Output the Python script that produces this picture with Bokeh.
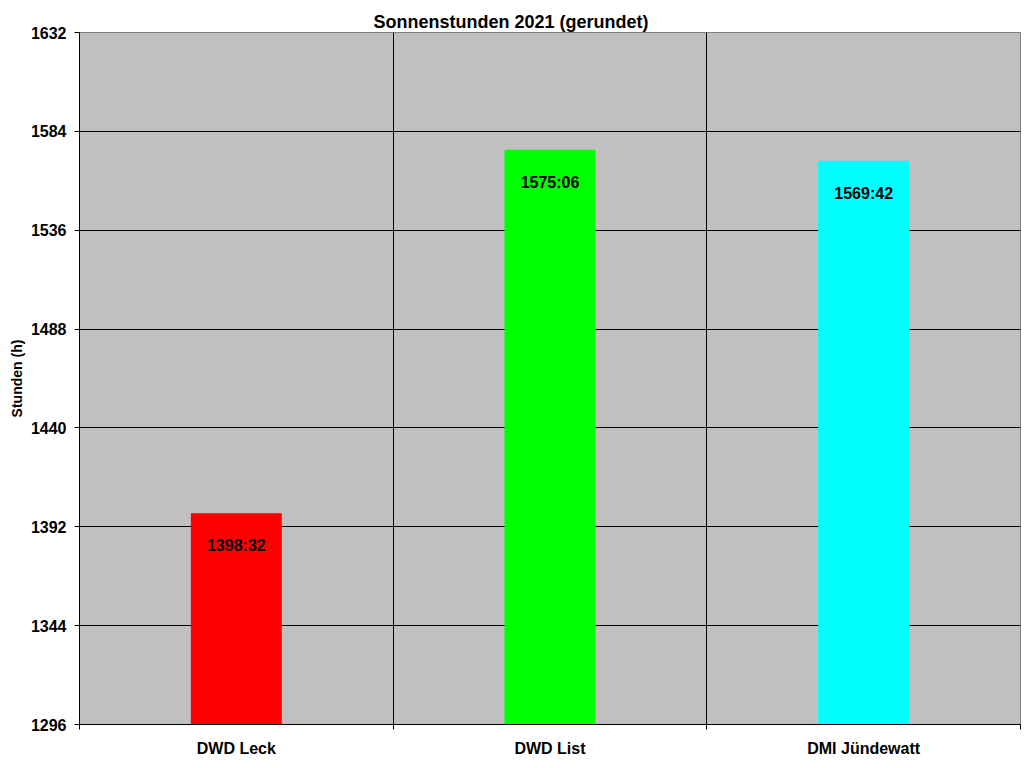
from bokeh.plotting import figure
from bokeh.models import FixedTicker, ColumnDataSource, Range1d
from bokeh.embed import file_html
from bokeh.resources import INLINE
from bokeh.core.properties import value

# ---- data ----
categories = ["DWD Leck", "DWD List", "DMI Jündewatt"]
value_labels = ["1398:32", "1575:06", "1569:42"]
hours = [1398 + 32 / 60, 1575 + 6 / 60, 1569 + 42 / 60]
bar_colors = ["#FF0000", "#00FF00", "#00FFFF"]
y_ticks = [1296, 1344, 1392, 1440, 1488, 1536, 1584, 1632]

FONT = "Liberation Sans"

xs = [i + 0.5 for i in range(len(categories))]
boundaries = list(range(len(categories) + 1))

src = ColumnDataSource(dict(x=xs, top=hours, color=bar_colors, label=value_labels))

p = figure(
    width=1024, height=768,
    x_range=Range1d(0, len(categories)),
    y_range=Range1d(y_ticks[0], y_ticks[-1]),
    output_backend="svg", toolbar_location=None,
    min_border_left=79, min_border_right=4, min_border_top=32, min_border_bottom=44,
)
p.background_fill_color = "#C0C0C0"
p.border_fill_color = "white"
p.outline_line_color = "#808080"
p.outline_line_width = 1

p.title.text = "Sonnenstunden 2021 (gerundet)"
p.title.align = "left"
p.title.offset = 294
p.title.standoff = 2
p.title.text_font = FONT
p.title.text_font_style = "bold"
p.title.text_font_size = "18px"
p.title.text_color = "black"

p.vbar(x="x", top="top", bottom=y_ticks[0], width=0.29, fill_color="color",
       line_color=None, source=src)
p.text(x="x", y="top", text="label", source=src, text_align="center",
       text_baseline="top", y_offset=24, text_font=value(FONT),
       text_font_style="bold", text_font_size="16px", text_color="black")

# x axis
xa = p.xaxis[0]
xa.ticker = FixedTicker(ticks=xs, minor_ticks=boundaries)
xa.major_label_overrides = {x: c for x, c in zip(xs, categories)}
xa.major_tick_out = 0
xa.major_tick_in = 0
xa.minor_tick_out = 5
xa.minor_tick_in = 0
xa.minor_tick_line_color = "black"
xa.axis_line_color = "black"
xa.major_label_standoff = 10
xa.major_label_text_font = FONT
xa.major_label_text_font_style = "bold"
xa.major_label_text_font_size = "16px"
xa.major_label_text_color = "black"

# y axis
ya = p.yaxis[0]
ya.ticker = FixedTicker(ticks=y_ticks)
ya.major_tick_out = 5
ya.major_tick_in = 0
ya.minor_tick_line_color = None
ya.axis_line_color = "black"
ya.major_tick_line_color = "black"
ya.major_label_standoff = 8
ya.major_label_text_font = FONT
ya.major_label_text_font_style = "bold"
ya.major_label_text_font_size = "16px"
ya.major_label_text_color = "black"
ya.axis_label = "Stunden (h)"
ya.axis_label_standoff = 3
ya.axis_label_text_font = FONT
ya.axis_label_text_font_style = "bold"
ya.axis_label_text_font_size = "14px"
ya.axis_label_text_color = "black"

# grids
p.xgrid.ticker = FixedTicker(ticks=boundaries[1:-1])
p.xgrid.grid_line_color = "black"
p.xgrid.grid_line_width = 1
p.ygrid.ticker = FixedTicker(ticks=y_ticks[1:-1])
p.ygrid.grid_line_color = "black"
p.ygrid.grid_line_width = 1

open("out.html", "w").write(file_html(p, INLINE))
